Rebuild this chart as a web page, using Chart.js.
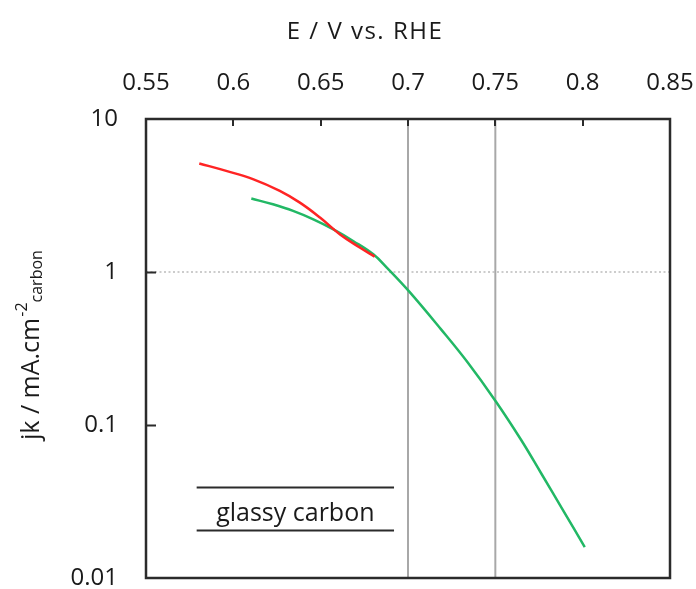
<!DOCTYPE html>
<html>
<head>
<meta charset="utf-8">
<script src="https://cdn.jsdelivr.net/npm/chart.js@4"></script>
<style>
  html, body { margin: 0; padding: 0; background: #ffffff; }
  #wrap { width: 696px; height: 589px; }
</style>
</head>
<body>
<div id="wrap"><canvas id="chart" width="696" height="589"></canvas></div>
<script>
// Kinetic current density vs. potential (log scale)
const potentialRed = [0.5805, 0.5959, 0.6112, 0.6266, 0.6381, 0.6496, 0.6611, 0.6726, 0.6809];
const jkRed        = [5.12, 4.58, 4.05, 3.39, 2.84, 2.27, 1.76, 1.44, 1.26];

const potentialGreen = [0.6103, 0.6227, 0.6342, 0.6458, 0.6573, 0.6688, 0.6803, 0.6880, 0.7005,
                        0.7187, 0.7341, 0.7504, 0.7648, 0.7763, 0.7888, 0.8012];
const jkGreen        = [3.02, 2.77, 2.51, 2.21, 1.90, 1.59, 1.30, 1.065, 0.750,
                        0.425, 0.257, 0.142, 0.0798, 0.0482, 0.0277, 0.0159];

const xTickValues = [0.55, 0.6, 0.65, 0.7, 0.75, 0.8, 0.85];
const yTickValues = [0.01, 0.1, 1, 10];
const markerPotentials = [0.7, 0.75];
const referenceCurrent = 1;

const xTitle = 'E / V vs. RHE';
const legendLabel = 'glassy carbon';

const FONT = "'Open Sans', 'DejaVu Sans', sans-serif";
const TEXT = '#1a1a1a';

const pairs = (xs, ys) => xs.map((x, i) => ({ x, y: ys[i] }));

const datasets = [];
markerPotentials.forEach(p => datasets.push({
  data: [{ x: p, y: 0.01 }, { x: p, y: 10 }],
  borderColor: '#a8a8a8', borderWidth: 2, pointRadius: 0, showLine: true, order: 3
}));
datasets.push({
  data: [{ x: 0.55, y: referenceCurrent }, { x: 0.85, y: referenceCurrent }],
  borderColor: '#9a9a9a', borderWidth: 1.2, borderDash: [2, 2.5], pointRadius: 0, showLine: true, order: 3
});
datasets.push({
  data: pairs(potentialRed, jkRed),
  borderColor: '#ff2424', borderWidth: 2.5, pointRadius: 0, showLine: true,
  tension: 0.4, order: 1
});
datasets.push({
  data: pairs(potentialGreen, jkGreen),
  borderColor: '#22b865', borderWidth: 2.5, pointRadius: 0, showLine: true,
  tension: 0.4, order: 2
});

// Frame, inward tick marks, axis titles and the legend annotation
const decorations = {
  id: 'decorations',
  afterDatasetsDraw(chart) {
    const { ctx, chartArea: a, scales } = chart;
    ctx.save();
    ctx.strokeStyle = '#2b2b2b';
    ctx.lineWidth = 2.5;
    ctx.strokeRect(a.left, a.top, a.right - a.left, a.bottom - a.top);

    ctx.lineWidth = 2;
    ctx.beginPath();
    xTickValues.forEach(v => {
      const x = Math.round(scales.x.getPixelForValue(v));
      ctx.moveTo(x, a.top);
      ctx.lineTo(x, a.top + 7);
    });
    [0.1, 1].forEach(v => {
      const y = Math.round(scales.y.getPixelForValue(v)) + 0.5;
      ctx.moveTo(a.left, y);
      ctx.lineTo(a.left + 10, y);
    });
    ctx.stroke();

    // Legend annotation
    const lx0 = scales.x.getPixelForValue(0.579);
    const lx1 = scales.x.getPixelForValue(0.692);
    ctx.lineWidth = 2;
    ctx.beginPath();
    ctx.moveTo(lx0, 487.5); ctx.lineTo(lx1, 487.5);
    ctx.moveTo(lx0, 530.5); ctx.lineTo(lx1, 530.5);
    ctx.stroke();
    ctx.fillStyle = TEXT;
    ctx.font = `25px ${FONT}`;
    ctx.textAlign = 'center';
    ctx.textBaseline = 'alphabetic';
    ctx.fillText(legendLabel, (lx0 + lx1) / 2, 521);

    // Top axis title
    ctx.font = `24px ${FONT}`;
    ctx.letterSpacing = '1.5px';
    ctx.fillText(xTitle, 365, 39);
    ctx.letterSpacing = '0px';

    // Rotated y axis title with superscript and subscript
    ctx.save();
    ctx.translate(39, 440);
    ctx.rotate(-Math.PI / 2);
    ctx.textAlign = 'left';
    let cx = 0;
    ctx.font = `25px ${FONT}`;
    const main = 'jk / mA.cm';
    ctx.fillText(main, cx, 0);
    cx += ctx.measureText(main).width + 1;
    ctx.font = `16px ${FONT}`;
    ctx.fillText('-2', cx, -12);
    cx += ctx.measureText('-2').width;
    ctx.fillText('carbon', cx, 3);
    ctx.restore();

    ctx.restore();
  }
};

new Chart(document.getElementById('chart'), {
  type: 'scatter',
  data: { datasets },
  options: {
    responsive: false,
    animation: false,
    devicePixelRatio: 1,
    layout: { padding: { left: 0, top: 0, right: 26, bottom: 11 } },
    plugins: { legend: { display: false }, tooltip: { enabled: false }, title: { display: false } },
    scales: {
      x: {
        type: 'linear', position: 'top', min: 0.55, max: 0.85,
        afterBuildTicks: s => { s.ticks = xTickValues.map(v => ({ value: v })); },
        afterFit: s => { s.height = 119; s.paddingLeft = 0; s.paddingRight = 0; },
        grid: { display: false, drawTicks: false },
        border: { display: false },
        ticks: {
          color: TEXT, padding: 21, maxRotation: 0,
          font: { family: FONT, size: 24 },
          callback: v => String(Number(v.toFixed(2)))
        }
      },
      y: {
        type: 'logarithmic', min: 0.01, max: 10,
        afterBuildTicks: s => { s.ticks = yTickValues.map(v => ({ value: v })); },
        afterFit: s => { s.width = 146; s.paddingTop = 0; s.paddingBottom = 0; },
        grid: { display: false, drawTicks: false },
        border: { display: false },
        ticks: {
          color: TEXT, padding: 28,
          font: { family: FONT, size: 24 },
          callback: v => String(v)
        }
      }
    }
  },
  plugins: [decorations]
});
</script>
</body>
</html>
